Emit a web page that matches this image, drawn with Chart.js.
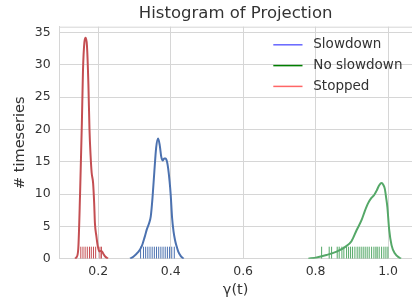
<!DOCTYPE html>
<html>
<head>
<meta charset="utf-8">
<script src="https://cdn.jsdelivr.net/npm/chart.js@4.4.1/dist/chart.umd.min.js"></script>
<style>
  html, body { margin: 0; padding: 0; background: #ffffff; overflow: hidden; }
  #wrap { width: 412px; height: 300px; position: relative; }
  canvas { display: block; }
</style>
</head>
<body>
<div id="wrap"><canvas id="c" width="412" height="300"></canvas></div>
<script>
// ---- data ----
const seriesNames = ["Slowdown", "No slowdown", "Stopped"];

// KDE curve of "Slowdown"
const slowX = [0.288,0.297,0.310,0.320,0.328,0.334,0.340,0.345,0.350,0.355,0.360,0.3655,0.370,0.374,0.378,0.382,0.386,0.390,0.393,0.397,0.400,0.404,0.408,0.412,0.416,0.421,0.428,0.436];
const slowY = [0,0.3,1.0,1.9,3.3,4.5,5.4,6.5,9.5,13.5,17.2,18.6,17.5,15.8,15.2,15.5,15.5,15.0,14.0,12.0,10.0,6.3,4.2,2.9,2.0,1.1,0.4,0];

// KDE curve of "No slowdown"
const noSlowX = [0.780,0.803,0.830,0.858,0.881,0.899,0.913,0.927,0.936,0.945,0.954,0.962,0.968,0.976,0.982,0.987,0.991,0.995,0.998,1.003,1.0095,1.019,1.031,1.036];
const noSlowY = [0,0.2,0.57,1.1,1.8,2.7,4.4,6.0,7.4,8.6,9.4,9.9,10.5,11.4,11.7,11.4,10.8,9.3,8.0,4.5,2.1,0.8,0.15,0];

// KDE curve of "Stopped"
const stopX = [0.136,0.140,0.145,0.150,0.155,0.158,0.162,0.1655,0.169,0.173,0.176,0.179,0.182,0.186,0.189,0.191,0.195,0.199,0.203,0.207,0.211,0.215,0.220,0.227];
const stopY = [0,0.2,1.5,10,21,29,33.5,34.2,33,27,20,16,13.3,11.7,8.5,5.5,3.5,1.9,1.1,1.2,1.1,0.7,0.3,0];

// rug (individual observations)
const slowRug = [0.317,0.325,0.331,0.337,0.343,0.349,0.355,0.361,0.367,0.373,0.379,0.385,0.391,0.397,0.403,0.410];
const noSlowRug = [0.8166,0.8375,0.8441,0.8596,0.8651,0.8725,0.878,0.8855,0.891,0.8965,0.902,0.9084,0.9147,0.9203,0.9258,0.9313,0.9368,0.9423,0.9479,0.9545,0.9608,0.9663,0.970,0.9755,0.9821,0.9884,0.994,0.9995];
const stopRug = [0.152,0.158,0.164,0.170,0.176,0.181,0.187,0.193,0.205,0.209];

// axis ticks
const xTicks = [0.2, 0.4, 0.6, 0.8, 1.0];
const yTicks = [0, 5, 10, 15, 20, 25, 30, 35];

// ---- styling ----
const curveColors = ["#4C72B0", "#55A868", "#C44E52"];
const legendColors = ["#6666ff", "#007f00", "#ff6666"];
const textColor = "#333333";
const gridColor = "#d6d6d6";
const FONT = "'DejaVu Sans', sans-serif";

function pts(xs, ys) { return xs.map((x, i) => ({ x: x, y: ys[i] })); }
const RUG_Y = 0.93;
function rug(xs) { return xs.map(x => ({ x: x, y: RUG_Y })); }

const curves = [pts(slowX, slowY), pts(noSlowX, noSlowY), pts(stopX, stopY)];
const rugs = [slowRug, noSlowRug, stopRug];

const datasets = [];
curves.forEach((d, i) => {
  datasets.push({
    label: seriesNames[i], data: d, borderColor: curveColors[i], borderWidth: 2,
    pointRadius: 0, fill: false, cubicInterpolationMode: 'monotone', showLine: true
  });
});
rugs.forEach((r, i) => {
  datasets.push({
    label: seriesNames[i] + " rug", data: rug(r), showLine: false,
    pointStyle: 'line', rotation: 90, pointRadius: 6, pointBorderWidth: 1,
    borderColor: curveColors[i], backgroundColor: curveColors[i], pointHoverRadius: 6
  });
});

const framePlugin = {
  id: 'frame',
  afterDraw(chart) {
    const { ctx, chartArea: a } = chart;
    ctx.save();
    // top spine
    ctx.strokeStyle = gridColor; ctx.lineWidth = 1;
    ctx.beginPath(); ctx.moveTo(a.left, a.top + 0.5); ctx.lineTo(a.right, a.top + 0.5); ctx.stroke();
    // title
    ctx.fillStyle = textColor;
    ctx.font = "16.5px " + FONT;
    ctx.textAlign = 'center'; ctx.textBaseline = 'middle';
    ctx.fillText("Histogram of Projection", (a.left + a.right) / 2, 13.5);
    // legend
    ctx.font = "13.5px " + FONT;
    ctx.textAlign = 'left';
    const rowsY = [44.8, 65.6, 86.4];
    seriesNames.forEach((n, i) => {
      ctx.strokeStyle = legendColors[i]; ctx.lineWidth = 1.5;
      ctx.beginPath(); ctx.moveTo(273.3, rowsY[i]); ctx.lineTo(302.5, rowsY[i]); ctx.stroke();
      ctx.fillStyle = textColor;
      ctx.fillText(n, 313.3, rowsY[i]);
    });
    ctx.restore();
  }
};

new Chart(document.getElementById('c'), {
  type: 'line',
  data: { datasets: datasets },
  options: {
    responsive: false, animation: false, devicePixelRatio: 1,
    layout: { autoPadding: false, padding: { top: 26.7, right: 0, left: 0, bottom: 0 } },
    plugins: { legend: { display: false }, tooltip: { enabled: false }, title: { display: false } },
    scales: {
      x: {
        type: 'linear', min: 0.0927, max: 1.066,
        afterBuildTicks: s => { s.ticks = xTicks.map(v => ({ value: v })); },
        afterFit: s => { s.height = 41.3; s.paddingLeft = 0; s.paddingRight = 0; },
        grid: { color: gridColor, lineWidth: 1, drawTicks: false },
        border: { color: gridColor, width: 1 },
        ticks: { color: textColor, font: { family: FONT, size: 12.5 }, padding: 6,
                 maxRotation: 0, callback: v => Number(v).toFixed(1) },
        title: { display: true, text: "γ(t)", color: textColor,
                 font: { family: FONT, size: 14.5 }, padding: { top: 0, bottom: 1.3 } }
      },
      y: {
        type: 'linear', min: 0, max: 35.9,
        afterBuildTicks: s => { s.ticks = yTicks.map(v => ({ value: v })); },
        afterFit: s => { s.width = 59.3; s.paddingTop = 0; s.paddingBottom = 0; },
        grid: { color: gridColor, lineWidth: 1, drawTicks: false },
        border: { color: gridColor, width: 1 },
        ticks: { color: textColor, font: { family: FONT, size: 12.5 }, padding: 8.6,
                 callback: v => String(v) },
        title: { display: true, text: "# timeseries", color: textColor,
                 font: { family: FONT, size: 14.5 }, padding: { top: 11.3, bottom: 0 } }
      }
    }
  },
  plugins: [framePlugin]
});
</script>
</body>
</html>
